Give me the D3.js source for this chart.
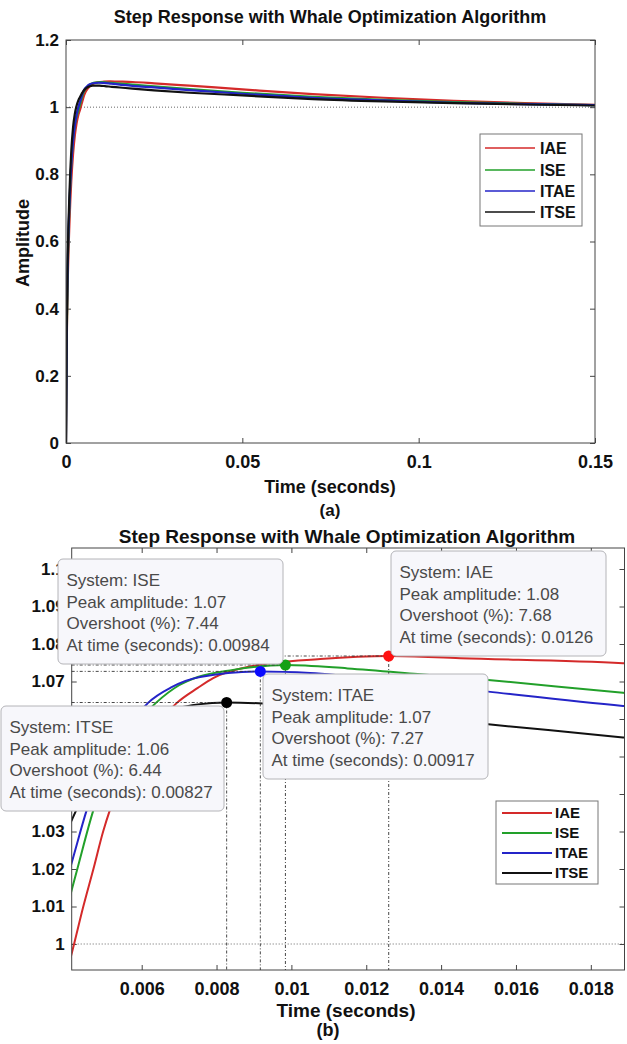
<!DOCTYPE html>
<html><head><meta charset="utf-8">
<script src="https://cdn.jsdelivr.net/npm/d3@7"></script>
<style>body{margin:0;background:#fff}svg{display:block}</style>
</head><body>
<svg id="c" width="627" height="1044"></svg>
<script>
// ---------- DATA ----------
const seriesNames = ["IAE", "ISE", "ITAE", "ITSE"];
const seriesColors = ["#d42a2a", "#22a02a", "#2424c8", "#111111"];
const markerColors = ["#ff1010", "#14a014", "#0a0aff", "#000000"];

const iaeTime = [0,0.0002,0.0005,0.001,0.0015,0.002,0.0025,0.003,0.0035,0.00413,0.00444,0.00471,0.00497,0.00515,0.0055,0.006,0.0065,0.00694,0.0075,0.00791,0.009,0.01077,0.0126,0.01451,0.01886,0.025,0.035,0.05,0.07,0.09,0.11,0.13,0.15];
const iaeAmp  = [0,0.28,0.48,0.66,0.78,0.86,0.915,0.952,0.977,0.9975,1.010,1.020,1.030,1.0357,1.0443,1.053,1.0596,1.0643,1.0683,1.0709,1.0742,1.0760,1.0768,1.0762,1.0749,1.071,1.064,1.053,1.039,1.028,1.019,1.012,1.007];

const iseTime = [0,0.0002,0.0005,0.001,0.0015,0.002,0.0025,0.003,0.0035,0.00413,0.00428,0.00471,0.005,0.0055,0.006,0.00638,0.007,0.0075,0.00844,0.00984,0.0115,0.01337,0.01526,0.01886,0.025,0.035,0.05,0.07,0.09,0.11,0.13,0.15];
const iseAmp  = [0,0.3,0.52,0.71,0.83,0.9,0.945,0.972,0.99,1.0144,1.020,1.0357,1.044,1.0545,1.0605,1.0643,1.0690,1.0712,1.0731,1.0744,1.0735,1.0720,1.0704,1.0670,1.062,1.054,1.043,1.031,1.022,1.015,1.010,1.006];

const itaeTime = [0,0.0002,0.0005,0.001,0.0015,0.002,0.0025,0.003,0.0035,0.00413,0.00453,0.005,0.0055,0.006,0.00617,0.0068,0.00756,0.00917,0.0105,0.0128,0.01526,0.01886,0.025,0.035,0.05,0.07,0.09,0.11,0.13,0.15];
const itaeAmp  = [0,0.32,0.54,0.72,0.83,0.9,0.945,0.978,1.0,1.0217,1.0357,1.049,1.0575,1.0625,1.0643,1.0685,1.0712,1.0727,1.0723,1.0700,1.0673,1.0635,1.059,1.051,1.040,1.028,1.020,1.013,1.009,1.006];

const itseTime = [0,0.0002,0.0005,0.001,0.0015,0.002,0.0025,0.003,0.0035,0.00413,0.0045,0.005,0.0055,0.006,0.0065,0.007,0.0075,0.00827,0.0095,0.011,0.013,0.01526,0.01886,0.025,0.035,0.05,0.07,0.09,0.11,0.13,0.15];
const itseAmp  = [0,0.33,0.56,0.75,0.87,0.94,0.98,1.004,1.02,1.033,1.041,1.049,1.0545,1.0585,1.0612,1.0630,1.0639,1.0644,1.0640,1.0628,1.0607,1.0586,1.0551,1.050,1.043,1.035,1.024,1.017,1.012,1.008,1.005];

const peakTime = [0.0126, 0.00984, 0.00917, 0.00827];
const peakAmp = [1.0768, 1.0744, 1.0727, 1.0644];
const peakAmpLabel = ["1.08", "1.07", "1.07", "1.06"];
const overshootLabel = ["7.68", "7.44", "7.27", "6.44"];
const peakTimeLabel = ["0.0126", "0.00984", "0.00917", "0.00827"];

const topXTicks = [0, 0.05, 0.1, 0.15];
const topYTicks = [0, 0.2, 0.4, 0.6, 0.8, 1, 1.2];
const botXTicks = [0.006, 0.008, 0.01, 0.012, 0.014, 0.016, 0.018];
const botYTicks = [1, 1.01, 1.02, 1.03, 1.04, 1.05, 1.06, 1.07, 1.08, 1.09, 1.1];
// tick labels of panel (b) that sit fully behind the ITSE data tip in the reference
const botYHiddenLabels = [1.04, 1.05, 1.06];

const titleText = "Step Response with Whale Optimization Algorithm";
const xLabelText = "Time (seconds)";
const yLabelText = "Amplitude";

// ---------- DRAW ----------
const FONT = "'Liberation Sans', Arial, Helvetica, sans-serif";
const svg = d3.select("#c");
const seriesTimes = [iaeTime, iseTime, itaeTime, itseTime];
const seriesAmps = [iaeAmp, iseAmp, itaeAmp, itseAmp];

function drawPanel(o) {
  const g = svg.append("g");
  const [x0, x1] = o.x.range();
  const [y0, y1] = o.y.range();
  const clipId = o.id + "-clip";
  svg.append("clipPath").attr("id", clipId).append("rect")
    .attr("x", x0).attr("y", y1).attr("width", x1 - x0).attr("height", y0 - y1);

  g.append("line").attr("x1", x0).attr("x2", x1).attr("y1", o.y(1)).attr("y2", o.y(1))
    .attr("stroke", "#666").attr("stroke-width", 1).attr("stroke-dasharray", "1,2");

  const fmtAxis = (sel, size) => {
    sel.select(".domain").remove();
    sel.selectAll("line").attr("stroke", "#444");
    sel.selectAll("text").attr("font-family", FONT).attr("font-size", size)
      .attr("font-weight", "bold").attr("fill", "#111");
  };
  const hidden = o.yHidden || [];
  const yFmt = d => hidden.includes(d) ? "" : d3.format("")(d);
  g.append("g").attr("transform", `translate(0,${y0})`)
    .call(d3.axisBottom(o.x).tickValues(o.xTicks).tickSize(-5).tickSizeOuter(0).tickPadding(o.xPad).tickFormat(d3.format("")))
    .call(s => fmtAxis(s, o.xTickFont));
  g.append("g").attr("transform", `translate(${x0},0)`)
    .call(d3.axisLeft(o.y).tickValues(o.yTicks).tickSize(-5).tickSizeOuter(0).tickPadding(7).tickFormat(yFmt))
    .call(s => fmtAxis(s, o.yTickFont));
  g.append("g").attr("transform", `translate(0,${y1})`)
    .call(d3.axisTop(o.x).tickValues(o.xTicks).tickSize(-5).tickSizeOuter(0).tickFormat(""))
    .call(s => fmtAxis(s, 10));
  g.append("g").attr("transform", `translate(${x1},0)`)
    .call(d3.axisRight(o.y).tickValues(o.yTicks).tickSize(-5).tickSizeOuter(0).tickFormat(""))
    .call(s => fmtAxis(s, 10));

  const line = d3.line().x(d => o.x(d[0])).y(d => o.y(d[1])).curve(d3.curveMonotoneX);
  seriesNames.forEach((n, i) => {
    g.append("path").attr("d", line(d3.zip(seriesTimes[i], seriesAmps[i])))
      .attr("clip-path", `url(#${clipId})`)
      .attr("fill", "none").attr("stroke", seriesColors[i]).attr("stroke-width", o.lineW)
      .attr("stroke-linejoin", "round");
  });

  g.append("rect").attr("x", x0).attr("y", y1).attr("width", x1 - x0).attr("height", y0 - y1)
    .attr("fill", "none").attr("stroke", "#444").attr("stroke-width", 1);

  svg.append("text").attr("x", o.titleX).attr("y", o.titleY).attr("text-anchor", "middle")
    .attr("font-family", FONT).attr("font-weight", "bold").attr("font-size", o.titleFont)
    .attr("fill", "#111").text(titleText);
  svg.append("text").attr("x", o.xLabX).attr("y", o.xLabY).attr("text-anchor", "middle")
    .attr("font-family", FONT).attr("font-weight", "bold").attr("font-size", o.labFont)
    .attr("fill", "#111").text(xLabelText);
  svg.append("text").attr("x", o.capX).attr("y", o.capY).attr("text-anchor", "middle")
    .attr("font-family", FONT).attr("font-weight", "bold").attr("font-size", o.labFont - 1)
    .attr("fill", "#111").text(o.caption);
  return {g, clipId};
}

// ---- panel (a)
const xA = d3.scaleLinear().domain([0, 0.15]).range([66, 595]);
const yA = d3.scaleLinear().domain([0, 1.2]).range([443, 40]);
drawPanel({id: "a", x: xA, y: yA, xTicks: topXTicks, yTicks: topYTicks, xTickFont: 18, yTickFont: 17, xPad: 12,
  lineW: 2.2, titleX: 330, titleY: 23, titleFont: 18, labFont: 18, xLabX: 330, xLabY: 493,
  caption: "(a)", capX: 330, capY: 516});
svg.append("text").attr("transform", "translate(29,243) rotate(-90)").attr("text-anchor", "middle")
  .attr("font-family", FONT).attr("font-weight", "bold").attr("font-size", 18).attr("fill", "#111")
  .text(yLabelText);

function drawLegend(x, y, w, h, rowY, lineX0, lineX1, textX, fs, lw) {
  const lg = svg.append("g");
  lg.append("rect").attr("x", x).attr("y", y).attr("width", w).attr("height", h)
    .attr("fill", "#fff").attr("stroke", "#777").attr("stroke-width", 1);
  seriesNames.forEach((n, i) => {
    const yy = y + rowY[i];
    lg.append("line").attr("x1", lineX0).attr("x2", lineX1).attr("y1", yy).attr("y2", yy)
      .attr("stroke", seriesColors[i]).attr("stroke-width", lw);
    lg.append("text").attr("x", textX).attr("y", yy + fs * 0.36).attr("font-family", FONT)
      .attr("font-weight", "bold").attr("font-size", fs).attr("fill", "#111").text(n);
  });
}
drawLegend(480, 134, 102, 92, [14, 36, 57, 78], 485, 535, 540, 16, 1.6);

// ---- panel (b)
const xB = d3.scaleLinear().domain([0.00413, 0.0189]).range([71.7, 624.5]);
const yB = d3.scaleLinear().domain([0.99307, 1.1056]).range([970, 548]);
const pb = drawPanel({id: "b", x: xB, y: yB, xTicks: botXTicks, yTicks: botYTicks, yHidden: botYHiddenLabels,
  xTickFont: 18, yTickFont: 17, xPad: 12,
  lineW: 2, titleX: 347, titleY: 543, titleFont: 19, labFont: 19, xLabX: 346, xLabY: 1017,
  caption: "(b)", capX: 328, capY: 1036});

const [bx0] = xB.range();
const [by0] = yB.range();
seriesNames.forEach((n, i) => {
  const px = xB(peakTime[i]), py = yB(peakAmp[i]);
  pb.g.append("line").attr("x1", bx0).attr("x2", px).attr("y1", py).attr("y2", py)
    .attr("stroke", "#333").attr("stroke-width", 0.9).attr("stroke-dasharray", "3,2,1,2");
  pb.g.append("line").attr("x1", px).attr("x2", px).attr("y1", py).attr("y2", by0)
    .attr("stroke", "#333").attr("stroke-width", 0.9).attr("stroke-dasharray", "3,2,1,2");
});
seriesNames.forEach((n, i) => {
  pb.g.append("circle").attr("cx", xB(peakTime[i])).attr("cy", yB(peakAmp[i])).attr("r", 5.5)
    .attr("fill", markerColors[i]);
});

// data tips (layout boxes: left, top, width)
const tipBoxes = [[391, 551, 215], [58, 559, 225], [263, 674, 225], [1, 706, 223]];
seriesNames.forEach((n, i) => {
  const [bx, by, bw] = tipBoxes[i];
  const tg = svg.append("g");
  tg.append("rect").attr("x", bx).attr("y", by).attr("width", bw).attr("height", 105)
    .attr("rx", 5).attr("fill", "#f7f7fb").attr("stroke", "#b4b4b8").attr("stroke-width", 1);
  const lines = ["System: " + n, "Peak amplitude: " + peakAmpLabel[i],
    "Overshoot (%): " + overshootLabel[i], "At time (seconds): " + peakTimeLabel[i]];
  lines.forEach((t, k) => {
    tg.append("text").attr("x", bx + 8.5).attr("y", by + 27 + k * 21.7)
      .attr("font-family", FONT).attr("font-size", 17).attr("fill", "#4a4a4a").text(t);
  });
});

drawLegend(496, 801, 102, 83, [12, 32, 52, 72], 502, 552, 555, 15, 2.2);
</script>
</body></html>
